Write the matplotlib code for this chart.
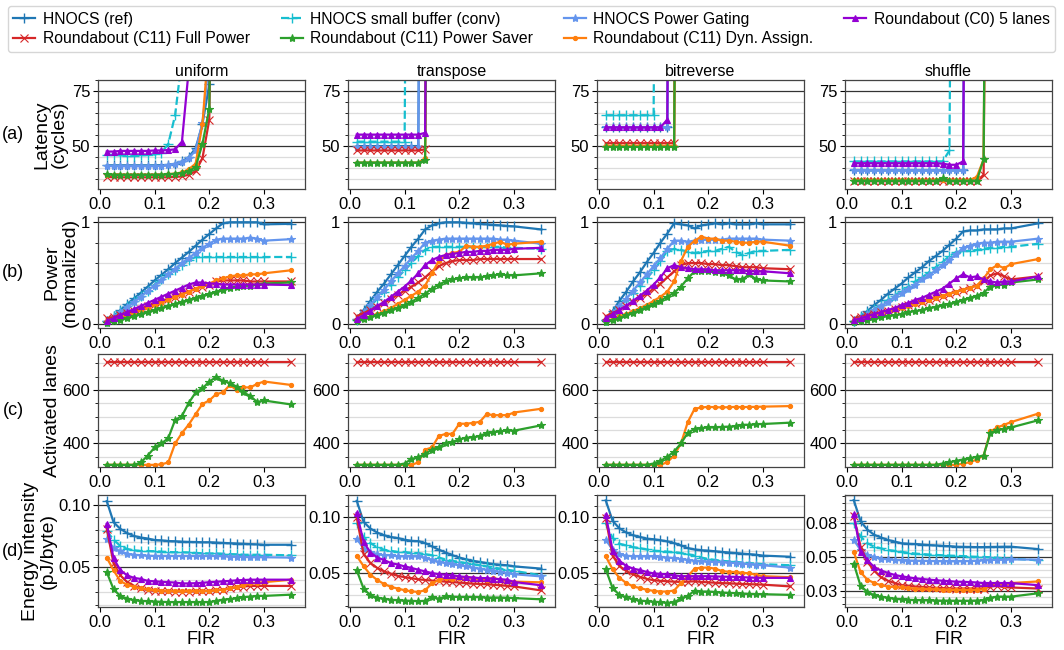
import matplotlib
matplotlib.use("Agg")
import matplotlib.pyplot as plt
from matplotlib.ticker import MultipleLocator

plt.rcParams['font.family'] = ['Liberation Sans', 'DejaVu Sans']

#x axis (flit injection rate)
FIR = [0.0125, 0.025, 0.0375, 0.05, 0.0625, 0.075, 0.0875, 0.1, 0.1125, 0.125,
       0.1375, 0.15, 0.1625, 0.175, 0.1875, 0.2, 0.2125, 0.225, 0.2375, 0.25,
       0.2625, 0.275, 0.2875, 0.3, 0.35]

PATTERNS = ["uniform", "transpose", "bitreverse", "shuffle"]
KEYS = ["ref", "sbuf", "pg", "c0", "full", "saver", "dyn"]
LABELS = {
    "ref": "HNOCS (ref)",
    "sbuf": "HNOCS small buffer (conv)",
    "pg": "HNOCS Power Gating",
    "c0": "Roundabout (C0) 5 lanes",
    "full": "Roundabout (C11) Full Power",
    "saver": "Roundabout (C11) Power Saver",
    "dyn": "Roundabout (C11) Dyn. Assign.",
}

#latency (cycles), series stop once saturated (last value is off the chart)
lat_uni_ref = [41.2, 41.2, 41.2, 41.2, 41.2, 41.2, 41.2, 41.2, 41.3, 41.5, 42, 43, 45, 49, 60, 78, 300]
lat_uni_sbuf = [46, 46, 45.8, 45.6, 45.6, 45.8, 46, 46.2, 47, 51, 64, 90]
lat_uni_pg = [41, 40.8, 40.8, 40.8, 40.8, 40.8, 40.8, 40.8, 41, 41.3, 41.8, 42.8, 44.5, 48, 60.5, 90]
lat_uni_c0 = [47.5, 47.5, 47.8, 47.8, 47.8, 47.8, 47.8, 48, 48, 48.2, 48.5, 52, 85]
lat_uni_full = [36, 35.8, 35.8, 35.8, 35.8, 35.8, 35.8, 35.8, 35.8, 35.8, 36, 36.2, 37, 38.5, 44.5, 62, 300]
lat_uni_saver = [37.2, 37, 37, 37, 37, 37, 37, 37, 37, 37.2, 37.4, 37.8, 38.5, 40.5, 51, 67, 300]
lat_uni_dyn = [37, 37, 37, 37, 37, 37, 37, 37, 37, 37.2, 37.5, 38, 39.5, 42, 60, 100]

lat_tra_ref = [50, 50, 50, 50, 50, 50, 50, 50, 50, 50, 500]
lat_tra_sbuf = [52, 52, 52, 52, 52, 52, 52, 52, 500]
lat_tra_pg = [49.5, 49.5, 49.5, 49.5, 49.5, 49.5, 49.5, 49.5, 49.5, 49.5, 500]
lat_tra_c0 = [55.2, 55.2, 55.2, 55.2, 55.2, 55.2, 55.2, 55.2, 55.2, 55.2, 56, 500]
lat_tra_full = [48, 48, 48, 48, 48, 48, 48, 48, 48, 48, 48.5, 500]
lat_tra_saver = [42.5, 42.5, 42.5, 42.5, 42.5, 42.5, 42.5, 42.5, 42.5, 42.5, 43.5, 500]
lat_tra_dyn = [42.5, 42.5, 42.5, 42.5, 42.5, 42.5, 42.5, 42.5, 42.5, 42.5, 44.5, 500]

lat_bit_ref = [58.5, 58.5, 58.5, 58.5, 58.5, 58.5, 58.5, 58.5, 58.5, 58.5, 500]
lat_bit_sbuf = [64, 64, 64, 64, 64, 64, 64, 64, 500]
lat_bit_pg = [58.5, 58.5, 58.5, 58.5, 58.5, 58.5, 58.5, 58.5, 58.5, 58.5, 500]
lat_bit_c0 = [58.5, 58.5, 58.5, 58.5, 58.5, 58.5, 58.5, 58.5, 58.5, 62, 500]
lat_bit_full = [51.3, 51.3, 51.3, 51.3, 51.3, 51.3, 51.3, 51.3, 51.3, 51.3, 51.3, 500]
lat_bit_saver = [49.6, 49.6, 49.6, 49.6, 49.6, 49.6, 49.6, 49.6, 49.6, 49.6, 49.6, 500]
lat_bit_dyn = [50.1, 50.1, 50.1, 50.1, 50.1, 50.1, 50.1, 50.1, 50.1, 50.1, 50.1, 500]

lat_shu_ref = [39, 39, 39, 39, 39, 39, 39, 39, 39, 39, 39, 39, 39, 39, 39, 39, 39, 500]
lat_shu_sbuf = [43, 43, 43, 43, 43, 43, 43, 43, 43, 43, 43, 43, 43, 43, 48, 500]
lat_shu_pg = [39, 39, 39, 39, 39, 39, 39, 39, 39, 39, 39, 39, 39, 39, 39, 39, 39, 500]
lat_shu_c0 = [42.2, 42.2, 42.2, 42.2, 42.2, 42.2, 42.2, 42.2, 42.2, 42.2, 42.2, 42.2, 42.2, 42, 41.5, 41.5, 43, 500]
lat_shu_full = [34, 34, 34, 34, 34, 34, 34, 34, 34, 34, 34, 34, 34, 34, 34, 34, 34, 34, 34, 37, 500]
lat_shu_saver = [34.3, 34.3, 34.3, 34.3, 34.3, 34.3, 34.3, 34.3, 34.3, 34.3, 34.3, 34.3, 34.3, 35.3, 34.3, 34.3, 34.3, 34.3, 34.3, 44, 500]
lat_shu_dyn = [34.6, 34.6, 34.6, 34.6, 34.6, 34.6, 34.6, 34.6, 34.6, 34.6, 34.6, 34.6, 34.6, 34.6, 34.6, 34.6, 34.6, 34.6, 36, 44, 500]

#power (normalized)
pow_uni_ref = [0.03, 0.08, 0.14, 0.2, 0.255, 0.31, 0.37, 0.43, 0.485, 0.54, 0.6, 0.655, 0.71, 0.77, 0.83, 0.885, 0.94, 0.99, 1.0, 1.0, 1.0, 1.0, 1.0, 0.98, 0.985]
pow_uni_sbuf = [0.03, 0.08, 0.13, 0.18, 0.23, 0.28, 0.33, 0.39, 0.44, 0.49, 0.53, 0.58, 0.63, 0.66, 0.66, 0.66, 0.66, 0.66, 0.66, 0.66, 0.66, 0.66, 0.66, 0.66, 0.66]
pow_uni_pg = [0.02, 0.07, 0.12, 0.17, 0.22, 0.27, 0.33, 0.38, 0.43, 0.49, 0.54, 0.6, 0.65, 0.7, 0.75, 0.79, 0.83, 0.84, 0.84, 0.84, 0.84, 0.85, 0.84, 0.82, 0.835]
pow_uni_c0 = [0.03, 0.06, 0.09, 0.12, 0.15, 0.18, 0.21, 0.24, 0.27, 0.3, 0.33, 0.36, 0.39, 0.41, 0.41, 0.4, 0.4, 0.39, 0.39, 0.39, 0.39, 0.39, 0.39, 0.39, 0.385]
pow_uni_full = [0.06, 0.07, 0.09, 0.11, 0.13, 0.15, 0.18, 0.2, 0.22, 0.25, 0.27, 0.3, 0.32, 0.35, 0.37, 0.39, 0.42, 0.43, 0.43, 0.43, 0.43, 0.42, 0.42, 0.42, 0.42]
pow_uni_saver = [0.01, 0.03, 0.045, 0.06, 0.08, 0.1, 0.12, 0.14, 0.16, 0.18, 0.2, 0.22, 0.24, 0.26, 0.28, 0.3, 0.32, 0.34, 0.36, 0.37, 0.38, 0.38, 0.39, 0.4, 0.41]
pow_uni_dyn = [0.03, 0.05, 0.07, 0.09, 0.11, 0.14, 0.16, 0.19, 0.21, 0.24, 0.27, 0.29, 0.32, 0.35, 0.38, 0.4, 0.43, 0.45, 0.47, 0.48, 0.48, 0.49, 0.49, 0.5, 0.53]

pow_tra_ref = [0.05, 0.14, 0.23, 0.32, 0.4, 0.49, 0.58, 0.67, 0.76, 0.84, 0.93, 0.97, 0.99, 1.0, 1.0, 1.0, 0.995, 0.99, 0.985, 0.98, 0.975, 0.97, 0.965, 0.96, 0.93]
pow_tra_sbuf = [0.04, 0.11, 0.18, 0.25, 0.32, 0.39, 0.46, 0.53, 0.6, 0.67, 0.73, 0.76, 0.76, 0.76, 0.76, 0.76, 0.76, 0.76, 0.76, 0.76, 0.76, 0.76, 0.75, 0.75, 0.74]
pow_tra_pg = [0.04, 0.12, 0.19, 0.27, 0.34, 0.42, 0.5, 0.57, 0.65, 0.72, 0.8, 0.82, 0.83, 0.84, 0.84, 0.84, 0.84, 0.84, 0.84, 0.84, 0.84, 0.83, 0.83, 0.82, 0.79]
pow_tra_c0 = [0.05, 0.09, 0.13, 0.18, 0.22, 0.27, 0.32, 0.37, 0.43, 0.5, 0.58, 0.63, 0.66, 0.68, 0.69, 0.7, 0.71, 0.71, 0.72, 0.72, 0.73, 0.73, 0.73, 0.74, 0.75]
pow_tra_full = [0.08, 0.11, 0.14, 0.17, 0.21, 0.25, 0.29, 0.33, 0.37, 0.41, 0.46, 0.52, 0.57, 0.6, 0.62, 0.63, 0.63, 0.63, 0.64, 0.64, 0.64, 0.64, 0.64, 0.64, 0.64]
pow_tra_saver = [0.03, 0.05, 0.07, 0.09, 0.11, 0.14, 0.16, 0.19, 0.22, 0.26, 0.3, 0.35, 0.39, 0.42, 0.44, 0.45, 0.46, 0.46, 0.46, 0.47, 0.48, 0.49, 0.48, 0.48, 0.5]
pow_tra_dyn = [0.03, 0.05, 0.07, 0.1, 0.13, 0.16, 0.2, 0.24, 0.28, 0.32, 0.38, 0.5, 0.62, 0.68, 0.7, 0.71, 0.77, 0.76, 0.76, 0.77, 0.79, 0.81, 0.78, 0.79, 0.81]

pow_bit_ref = [0.04, 0.13, 0.23, 0.32, 0.42, 0.51, 0.61, 0.7, 0.8, 0.89, 0.99, 0.98, 0.97, 0.94, 0.97, 0.98, 0.99, 0.98, 0.99, 0.98, 0.98, 0.98, 0.99, 0.98, 0.98]
pow_bit_sbuf = [0.04, 0.1, 0.17, 0.24, 0.31, 0.38, 0.45, 0.53, 0.62, 0.72, 0.74, 0.73, 0.71, 0.7, 0.71, 0.72, 0.72, 0.74, 0.76, 0.71, 0.68, 0.7, 0.72, 0.72, 0.73]
pow_bit_pg = [0.04, 0.11, 0.18, 0.25, 0.33, 0.41, 0.49, 0.57, 0.65, 0.74, 0.82, 0.82, 0.81, 0.82, 0.83, 0.83, 0.83, 0.83, 0.84, 0.84, 0.84, 0.84, 0.84, 0.83, 0.82]
pow_bit_c0 = [0.06, 0.1, 0.14, 0.18, 0.23, 0.28, 0.33, 0.39, 0.46, 0.55, 0.58, 0.56, 0.55, 0.54, 0.54, 0.54, 0.53, 0.53, 0.53, 0.53, 0.53, 0.52, 0.52, 0.52, 0.5]
pow_bit_full = [0.08, 0.11, 0.14, 0.18, 0.22, 0.26, 0.3, 0.35, 0.4, 0.46, 0.52, 0.58, 0.6, 0.6, 0.6, 0.59, 0.59, 0.58, 0.58, 0.57, 0.56, 0.56, 0.56, 0.55, 0.54]
pow_bit_saver = [0.02, 0.04, 0.06, 0.09, 0.11, 0.14, 0.17, 0.2, 0.23, 0.27, 0.31, 0.37, 0.45, 0.52, 0.52, 0.52, 0.51, 0.5, 0.48, 0.44, 0.44, 0.49, 0.44, 0.43, 0.42]
pow_bit_dyn = [0.03, 0.05, 0.08, 0.1, 0.13, 0.16, 0.19, 0.23, 0.27, 0.32, 0.42, 0.62, 0.76, 0.82, 0.86, 0.84, 0.84, 0.82, 0.82, 0.81, 0.8, 0.8, 0.81, 0.81, 0.77]

pow_shu_ref = [0.03, 0.08, 0.13, 0.19, 0.24, 0.3, 0.35, 0.4, 0.46, 0.51, 0.56, 0.62, 0.67, 0.72, 0.78, 0.84, 0.91, 0.92, 0.92, 0.93, 0.93, 0.93, 0.94, 0.94, 0.99]
pow_shu_sbuf = [0.03, 0.07, 0.11, 0.15, 0.19, 0.24, 0.28, 0.33, 0.37, 0.42, 0.46, 0.51, 0.56, 0.61, 0.67, 0.71, 0.72, 0.72, 0.73, 0.74, 0.75, 0.75, 0.76, 0.76, 0.79]
pow_shu_pg = [0.02, 0.06, 0.1, 0.14, 0.18, 0.22, 0.27, 0.31, 0.35, 0.39, 0.44, 0.48, 0.53, 0.58, 0.63, 0.69, 0.75, 0.77, 0.79, 0.8, 0.8, 0.81, 0.81, 0.81, 0.84]
pow_shu_c0 = [0.04, 0.06, 0.08, 0.1, 0.12, 0.14, 0.16, 0.19, 0.21, 0.24, 0.26, 0.29, 0.32, 0.35, 0.4, 0.45, 0.49, 0.46, 0.47, 0.44, 0.42, 0.41, 0.42, 0.42, 0.47]
pow_shu_full = [0.06, 0.07, 0.09, 0.1, 0.12, 0.13, 0.15, 0.17, 0.19, 0.21, 0.22, 0.24, 0.26, 0.28, 0.3, 0.32, 0.34, 0.36, 0.38, 0.42, 0.48, 0.5, 0.47, 0.44, 0.47]
pow_shu_saver = [0.02, 0.03, 0.04, 0.05, 0.07, 0.08, 0.09, 0.1, 0.12, 0.13, 0.14, 0.16, 0.17, 0.19, 0.2, 0.22, 0.24, 0.26, 0.28, 0.31, 0.37, 0.39, 0.39, 0.41, 0.44]
pow_shu_dyn = [0.04, 0.06, 0.07, 0.09, 0.11, 0.12, 0.14, 0.16, 0.18, 0.2, 0.22, 0.24, 0.26, 0.28, 0.3, 0.32, 0.34, 0.36, 0.38, 0.45, 0.54, 0.58, 0.55, 0.59, 0.64]

#activated lanes (only the C11 variants)
lane_full = [704, 704, 704, 704, 704, 704, 704, 704, 704, 704, 704, 704, 704, 704, 704, 704, 704, 704, 704, 704, 704, 704, 704, 704, 704]
lane_uni_saver = [320, 320, 320, 320, 320, 329, 355, 385, 400, 420, 488, 503, 552, 591, 606, 632, 648, 635, 626, 613, 591, 578, 555, 561, 546]
lane_uni_dyn = [320, 320, 320, 320, 320, 320, 320, 320, 322, 329, 400, 439, 471, 510, 548, 561, 585, 591, 619, 600, 610, 610, 623, 632, 619]
lane_tra_saver = [320, 320, 320, 320, 320, 320, 320, 325, 342, 348, 361, 377, 387, 400, 406, 415, 422, 423, 428, 439, 443, 445, 449, 448, 468]
lane_tra_dyn = [320, 320, 320, 320, 320, 320, 320, 320, 320, 329, 377, 385, 428, 436, 436, 474, 474, 477, 481, 510, 506, 506, 506, 516, 530]
lane_bit_saver = [320, 320, 320, 320, 320, 320, 320, 325, 335, 350, 370, 400, 440, 455, 458, 460, 460, 462, 463, 465, 470, 470, 472, 473, 478]
lane_bit_dyn = [320, 320, 320, 320, 320, 320, 320, 320, 320, 330, 355, 400, 480, 530, 535, 537, 536, 535, 536, 537, 536, 537, 537, 538, 540]
lane_shu_saver = [320, 320, 320, 320, 320, 320, 320, 320, 320, 320, 320, 320, 320, 325, 330, 335, 340, 345, 350, 355, 440, 450, 455, 460, 487]
lane_shu_dyn = [320, 320, 320, 320, 320, 320, 320, 320, 320, 320, 320, 320, 320, 320, 320, 320, 325, 330, 340, 355, 445, 460, 470, 480, 512]

#energy intensity (pJ/byte)
en_uni_ref = [0.103, 0.086, 0.0807, 0.0773, 0.075, 0.0738, 0.073, 0.0718, 0.0715, 0.071, 0.0708, 0.0705, 0.0703, 0.0702, 0.07, 0.07, 0.0698, 0.0695, 0.0692, 0.069, 0.0688, 0.0685, 0.0683, 0.068, 0.068]
en_uni_sbuf = [0.079, 0.072, 0.067, 0.0646, 0.0635, 0.063, 0.063, 0.0628, 0.0625, 0.0622, 0.062, 0.062, 0.0618, 0.0615, 0.0612, 0.061, 0.061, 0.0608, 0.0605, 0.0603, 0.06, 0.06, 0.06, 0.06, 0.0595]
en_uni_pg = [0.0724, 0.0655, 0.0627, 0.0608, 0.06, 0.0595, 0.0592, 0.059, 0.059, 0.059, 0.059, 0.059, 0.059, 0.059, 0.059, 0.059, 0.059, 0.0588, 0.0585, 0.0585, 0.0583, 0.058, 0.058, 0.058, 0.0577]
en_uni_c0 = [0.0848, 0.057, 0.0475, 0.0434, 0.0414, 0.0406, 0.039, 0.0387, 0.0383, 0.038, 0.0377, 0.037, 0.037, 0.0372, 0.0375, 0.038, 0.0383, 0.0387, 0.039, 0.0395, 0.0397, 0.04, 0.04, 0.04, 0.04]
en_uni_full = [0.081, 0.053, 0.0434, 0.038, 0.035, 0.0331, 0.0315, 0.031, 0.0308, 0.0306, 0.0305, 0.0305, 0.0305, 0.0306, 0.0308, 0.031, 0.0315, 0.032, 0.033, 0.034, 0.0345, 0.035, 0.035, 0.035, 0.035]
en_uni_saver = [0.046, 0.0323, 0.0268, 0.0249, 0.0235, 0.023, 0.0227, 0.0225, 0.0222, 0.022, 0.022, 0.022, 0.022, 0.022, 0.022, 0.022, 0.023, 0.024, 0.0245, 0.025, 0.026, 0.0265, 0.027, 0.027, 0.028]
en_uni_dyn = [0.0577, 0.0475, 0.0387, 0.036, 0.0343, 0.0331, 0.0323, 0.0315, 0.0313, 0.031, 0.031, 0.031, 0.031, 0.031, 0.031, 0.031, 0.0315, 0.032, 0.033, 0.034, 0.0355, 0.037, 0.0375, 0.038, 0.04]

en_tra_ref = [0.115, 0.096, 0.09, 0.0864, 0.084, 0.0824, 0.0815, 0.08, 0.079, 0.0787, 0.077, 0.074, 0.071, 0.0685, 0.066, 0.064, 0.0623, 0.061, 0.06, 0.059, 0.058, 0.0575, 0.057, 0.056, 0.054]
en_tra_sbuf = [0.095, 0.082, 0.077, 0.073, 0.071, 0.07, 0.069, 0.069, 0.068, 0.068, 0.067, 0.066, 0.064, 0.062, 0.061, 0.06, 0.059, 0.058, 0.057, 0.056, 0.055, 0.054, 0.053, 0.052, 0.048]
en_tra_pg = [0.081, 0.072, 0.069, 0.067, 0.066, 0.066, 0.065, 0.065, 0.065, 0.065, 0.064, 0.062, 0.06, 0.059, 0.058, 0.057, 0.056, 0.055, 0.054, 0.053, 0.052, 0.051, 0.05, 0.049, 0.047]
en_tra_c0 = [0.104, 0.078, 0.0685, 0.064, 0.0617, 0.059, 0.0577, 0.056, 0.0546, 0.053, 0.0515, 0.05, 0.049, 0.0485, 0.048, 0.047, 0.0465, 0.046, 0.0455, 0.0455, 0.045, 0.0445, 0.044, 0.042, 0.039]
en_tra_full = [0.1, 0.067, 0.059, 0.0546, 0.0515, 0.0494, 0.0475, 0.0463, 0.0454, 0.0444, 0.0438, 0.0432, 0.0428, 0.0423, 0.042, 0.0414, 0.041, 0.0405, 0.0402, 0.04, 0.0395, 0.039, 0.0385, 0.038, 0.0344]
en_tra_saver = [0.0525, 0.036, 0.03, 0.0278, 0.027, 0.026, 0.0255, 0.0253, 0.025, 0.0247, 0.025, 0.0284, 0.027, 0.029, 0.0287, 0.0285, 0.0285, 0.0285, 0.0283, 0.028, 0.028, 0.028, 0.0278, 0.0275, 0.0264]
en_tra_dyn = [0.0654, 0.0562, 0.0485, 0.0438, 0.0401, 0.0377, 0.036, 0.0346, 0.0336, 0.033, 0.0346, 0.0407, 0.0438, 0.0454, 0.0444, 0.0454, 0.0463, 0.0454, 0.0445, 0.0438, 0.0454, 0.044, 0.043, 0.0423, 0.0417]

en_bit_ref = [0.1153, 0.097, 0.0902, 0.0865, 0.084, 0.0825, 0.081, 0.0804, 0.0795, 0.0785, 0.077, 0.0748, 0.0725, 0.0712, 0.0705, 0.0702, 0.0696, 0.069, 0.0685, 0.068, 0.0675, 0.067, 0.0665, 0.0657, 0.0647]
en_bit_sbuf = [0.0948, 0.0816, 0.0764, 0.0748, 0.0733, 0.0724, 0.0712, 0.0702, 0.0698, 0.0693, 0.0688, 0.068, 0.067, 0.0657, 0.064, 0.0626, 0.0618, 0.061, 0.0605, 0.06, 0.0595, 0.059, 0.0585, 0.058, 0.057]
en_bit_pg = [0.08, 0.071, 0.067, 0.0657, 0.065, 0.065, 0.065, 0.065, 0.0645, 0.064, 0.0635, 0.0626, 0.0618, 0.061, 0.0607, 0.0604, 0.0601, 0.0598, 0.0595, 0.059, 0.0585, 0.058, 0.0575, 0.057, 0.0549]
en_bit_c0 = [0.1025, 0.0702, 0.061, 0.0564, 0.054, 0.0527, 0.051, 0.0497, 0.0492, 0.0488, 0.048, 0.0472, 0.0472, 0.0472, 0.0472, 0.0472, 0.047, 0.0468, 0.0467, 0.0466, 0.0463, 0.046, 0.0458, 0.0457, 0.0457]
en_bit_full = [0.0994, 0.0656, 0.0564, 0.0518, 0.0488, 0.0466, 0.0448, 0.0436, 0.043, 0.0426, 0.0423, 0.042, 0.0423, 0.0426, 0.042, 0.0417, 0.0413, 0.041, 0.0408, 0.0405, 0.0402, 0.04, 0.0398, 0.0396, 0.038]
en_bit_saver = [0.0534, 0.0365, 0.0304, 0.0282, 0.0264, 0.0252, 0.0247, 0.0242, 0.0238, 0.0233, 0.0236, 0.0273, 0.0294, 0.0343, 0.0334, 0.0334, 0.033, 0.0325, 0.0322, 0.0319, 0.0316, 0.0313, 0.0311, 0.031, 0.0304]
en_bit_dyn = [0.065, 0.0534, 0.0457, 0.0411, 0.038, 0.0365, 0.035, 0.034, 0.0334, 0.0334, 0.0343, 0.0411, 0.0472, 0.054, 0.0549, 0.0549, 0.054, 0.0518, 0.0512, 0.0509, 0.0503, 0.0497, 0.0485, 0.0472, 0.0463]

en_shu_ref = [0.0922, 0.0765, 0.0702, 0.0664, 0.0644, 0.0626, 0.0614, 0.0601, 0.0598, 0.0596, 0.0592, 0.0588, 0.0585, 0.0582, 0.058, 0.0576, 0.0575, 0.0574, 0.0573, 0.0573, 0.0574, 0.0575, 0.0576, 0.0576, 0.0558]
en_shu_sbuf = [0.0753, 0.0652, 0.0601, 0.0576, 0.0563, 0.0551, 0.0545, 0.0538, 0.053, 0.0525, 0.0521, 0.0518, 0.0515, 0.0512, 0.051, 0.0508, 0.0506, 0.0503, 0.0501, 0.05, 0.0497, 0.0494, 0.049, 0.0487, 0.0475]
en_shu_pg = [0.0626, 0.0551, 0.0513, 0.05, 0.0487, 0.0482, 0.0478, 0.0475, 0.0473, 0.0472, 0.0471, 0.047, 0.0469, 0.0468, 0.0468, 0.0467, 0.0468, 0.047, 0.0472, 0.0475, 0.0477, 0.0479, 0.048, 0.0482, 0.048]
en_shu_c0 = [0.0816, 0.0538, 0.0475, 0.0424, 0.0399, 0.0381, 0.0366, 0.0356, 0.0348, 0.0341, 0.0336, 0.0331, 0.0327, 0.0323, 0.032, 0.0316, 0.0315, 0.0313, 0.031, 0.0306, 0.0306, 0.0306, 0.0306, 0.0306, 0.029]
en_shu_full = [0.0803, 0.0576, 0.0462, 0.0399, 0.0348, 0.0323, 0.0306, 0.029, 0.0285, 0.028, 0.0277, 0.0273, 0.027, 0.0268, 0.0266, 0.0265, 0.0265, 0.0265, 0.0265, 0.0265, 0.028, 0.0285, 0.0275, 0.0273, 0.0265]
en_shu_saver = [0.045, 0.0285, 0.024, 0.0215, 0.0205, 0.0197, 0.019, 0.0184, 0.0181, 0.0179, 0.0178, 0.0177, 0.0176, 0.0175, 0.0175, 0.0174, 0.0174, 0.0174, 0.0176, 0.0179, 0.0197, 0.0205, 0.0205, 0.0205, 0.023]
en_shu_dyn = [0.0538, 0.0386, 0.0331, 0.0306, 0.029, 0.028, 0.0276, 0.0273, 0.0269, 0.0265, 0.0263, 0.026, 0.0259, 0.0258, 0.0257, 0.0255, 0.0254, 0.0253, 0.0255, 0.026, 0.0298, 0.0306, 0.029, 0.0306, 0.0318]


#tables built from the lists above
LAT = {
    "uniform": dict(ref=lat_uni_ref, sbuf=lat_uni_sbuf, pg=lat_uni_pg, c0=lat_uni_c0, full=lat_uni_full, saver=lat_uni_saver, dyn=lat_uni_dyn),
    "transpose": dict(ref=lat_tra_ref, sbuf=lat_tra_sbuf, pg=lat_tra_pg, c0=lat_tra_c0, full=lat_tra_full, saver=lat_tra_saver, dyn=lat_tra_dyn),
    "bitreverse": dict(ref=lat_bit_ref, sbuf=lat_bit_sbuf, pg=lat_bit_pg, c0=lat_bit_c0, full=lat_bit_full, saver=lat_bit_saver, dyn=lat_bit_dyn),
    "shuffle": dict(ref=lat_shu_ref, sbuf=lat_shu_sbuf, pg=lat_shu_pg, c0=lat_shu_c0, full=lat_shu_full, saver=lat_shu_saver, dyn=lat_shu_dyn),
}
POW = {
    "uniform": dict(ref=pow_uni_ref, sbuf=pow_uni_sbuf, pg=pow_uni_pg, c0=pow_uni_c0, full=pow_uni_full, saver=pow_uni_saver, dyn=pow_uni_dyn),
    "transpose": dict(ref=pow_tra_ref, sbuf=pow_tra_sbuf, pg=pow_tra_pg, c0=pow_tra_c0, full=pow_tra_full, saver=pow_tra_saver, dyn=pow_tra_dyn),
    "bitreverse": dict(ref=pow_bit_ref, sbuf=pow_bit_sbuf, pg=pow_bit_pg, c0=pow_bit_c0, full=pow_bit_full, saver=pow_bit_saver, dyn=pow_bit_dyn),
    "shuffle": dict(ref=pow_shu_ref, sbuf=pow_shu_sbuf, pg=pow_shu_pg, c0=pow_shu_c0, full=pow_shu_full, saver=pow_shu_saver, dyn=pow_shu_dyn),
}
LANE = {
    "uniform": dict(full=lane_full, saver=lane_uni_saver, dyn=lane_uni_dyn),
    "transpose": dict(full=lane_full, saver=lane_tra_saver, dyn=lane_tra_dyn),
    "bitreverse": dict(full=lane_full, saver=lane_bit_saver, dyn=lane_bit_dyn),
    "shuffle": dict(full=lane_full, saver=lane_shu_saver, dyn=lane_shu_dyn),
}
EN = {
    "uniform": dict(ref=en_uni_ref, sbuf=en_uni_sbuf, pg=en_uni_pg, c0=en_uni_c0, full=en_uni_full, saver=en_uni_saver, dyn=en_uni_dyn),
    "transpose": dict(ref=en_tra_ref, sbuf=en_tra_sbuf, pg=en_tra_pg, c0=en_tra_c0, full=en_tra_full, saver=en_tra_saver, dyn=en_tra_dyn),
    "bitreverse": dict(ref=en_bit_ref, sbuf=en_bit_sbuf, pg=en_bit_pg, c0=en_bit_c0, full=en_bit_full, saver=en_bit_saver, dyn=en_bit_dyn),
    "shuffle": dict(ref=en_shu_ref, sbuf=en_shu_sbuf, pg=en_shu_pg, c0=en_shu_c0, full=en_shu_full, saver=en_shu_saver, dyn=en_shu_dyn),
}

#styles
STYLE = {
    "ref": dict(color="#1f77b4", marker="+", ls="-", ms=7, mew=1.0),
    "sbuf": dict(color="#17becf", marker="+", ls="--", ms=7, mew=1.0),
    "pg": dict(color="#6495ed", marker="*", ls="-", ms=6, mew=0.8),
    "c0": dict(color="#9400d3", marker="^", ls="-", ms=4.5, mew=0.8),
    "full": dict(color="#d62728", marker="x", ls="-", ms=6, mew=0.8),
    "saver": dict(color="#2ca02c", marker="*", ls="-", ms=6, mew=0.8),
    "dyn": dict(color="#ff7f0e", marker=".", ls="-", ms=6, mew=0.8),
}
DRAW_ORDER = ["ref", "sbuf", "pg", "full", "dyn", "saver", "c0"]
LEGEND_ORDER = ["ref", "full", "sbuf", "saver", "pg", "dyn", "c0"]

W, H = 1064, 650
COL_LEFT = [98, 348, 597, 845]
COL_W = 207
ROWS = [(80, 189), (217, 328), (354, 467), (495, 607)]

fig = plt.figure(figsize=(W / 100, H / 100), dpi=100)


def make_ax(r, c):
    top, bot = ROWS[r]
    ax = fig.add_axes([COL_LEFT[c] / W, 1 - bot / H, COL_W / W, (bot - top) / H])
    ax.set_xlim(-0.0035, 0.375)
    ax.set_xticks([0.0, 0.1, 0.2, 0.3])
    ax.set_xticklabels(["0.0", "0.1", "0.2", "0.3"])
    ax.tick_params(axis="both", which="major", labelsize=12, length=3.5, width=0.8, pad=2)
    ax.tick_params(axis="y", which="minor", length=2, width=0.6)
    ax.yaxis.grid(True, which="major", color="#333333", lw=0.9)
    ax.yaxis.grid(True, which="minor", color="#dcdcdc", lw=0.9)
    ax.set_axisbelow(True)
    for s in ax.spines.values():
        s.set_color("#444444")
        s.set_linewidth(0.9)
    return ax


handles = {}

for c, pat in enumerate(PATTERNS):
    #(a) latency
    ax = make_ax(0, c)
    for k in DRAW_ORDER:
        y = LAT[pat][k]
        ln, = ax.plot(FIR[:len(y)], y, lw=1.6, label=LABELS[k], **STYLE[k])
        handles[k] = ln
    ax.set_ylim(30.5, 80)
    ax.set_yticks([50, 75])
    ax.yaxis.set_minor_locator(MultipleLocator(5))
    ax.set_title(pat, fontsize=11.5, pad=3)
    if c == 0:
        ax.set_ylabel("Latency\n(cycles)", fontsize=14, linespacing=1.05)
        ax.yaxis.set_label_coords(-0.145, 0.5)

    #(b) power
    ax = make_ax(1, c)
    for k in DRAW_ORDER:
        ax.plot(FIR, POW[pat][k], lw=1.6, **STYLE[k])
    ax.set_ylim(-0.036, 1.052)
    ax.set_yticks([0, 1])
    ax.set_yticklabels(["0", "1"])
    ax.yaxis.set_minor_locator(MultipleLocator(0.2))
    if c == 0:
        ax.set_ylabel("Power\n(normalized)", fontsize=14, linespacing=1.05)
        ax.yaxis.set_label_coords(-0.095, 0.5)

    #(c) activated lanes
    ax = make_ax(2, c)
    for k in ["full", "dyn", "saver"]:
        ax.plot(FIR, LANE[pat][k], lw=1.6, **STYLE[k])
    ax.set_ylim(312, 735)
    ax.set_yticks([400, 600])
    ax.yaxis.set_minor_locator(MultipleLocator(50))
    if c == 0:
        ax.set_ylabel("Activated lanes", fontsize=14)
        ax.yaxis.set_label_coords(-0.18, 0.5)

    #(d) energy intensity
    ax = make_ax(3, c)
    for k in DRAW_ORDER:
        ax.plot(FIR, EN[pat][k], lw=1.6, **STYLE[k])
    if pat == "shuffle":
        ax.set_ylim(0.0128, 0.096)
        ax.set_yticks([0.025, 0.05, 0.075])
        ax.set_yticklabels(["0.03", "0.05", "0.08"])
        ax.yaxis.set_minor_locator(MultipleLocator(0.005))
    else:
        if pat == "uniform":
            ax.set_ylim(0.0181, 0.1079)
        else:
            ax.set_ylim(0.0195, 0.1202)
        ax.set_yticks([0.05, 0.10])
        ax.set_yticklabels(["0.05", "0.10"])
        ax.yaxis.set_minor_locator(MultipleLocator(0.01))
    ax.set_xlabel("FIR", fontsize=13, labelpad=1)
    if c == 0:
        ax.set_ylabel("Energy intensity\n(pJ/byte)", fontsize=14, linespacing=1.05)
        ax.yaxis.set_label_coords(-0.2, 0.5)

#row tags
for tag, (top, bot) in zip(["(a)", "(b)", "(c)", "(d)"], ROWS):
    fig.text(13 / W, 1 - (top + bot) / 2 / H, tag, fontsize=13, ha="center", va="center")

fig.legend([handles[k] for k in LEGEND_ORDER], [LABELS[k] for k in LEGEND_ORDER],
           loc="center", ncol=4, mode="expand",
           bbox_to_anchor=(8 / W, 1 - 55 / H, 1047 / W, 52 / H),
           fontsize=11.3, handlelength=1.4, handletextpad=0.5,
           labelspacing=0.3, borderpad=0.35, borderaxespad=0,
           frameon=True, edgecolor="#cccccc", fancybox=True)

fig.savefig("out.png", dpi=100)
